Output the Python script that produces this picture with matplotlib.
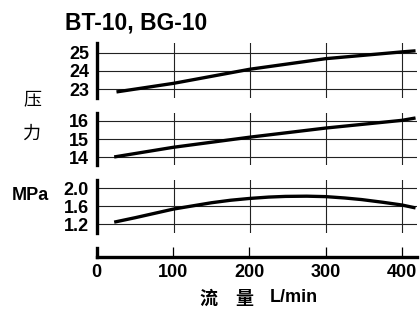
import numpy as np
from matplotlib import pyplot as plt

# flow, L/min
flow_a = [25, 100, 200, 300, 400, 418]
flow_b = [22, 100, 200, 300, 400, 418]
flow_c = [22, 50, 100, 150, 175, 200, 225, 247, 275, 300, 325, 347, 375, 400, 418]

# pressure, MPa
p_a = [22.85, 23.32, 24.09, 24.67, 25.04, 25.10]
p_b = [14.02, 14.55, 15.10, 15.60, 16.02, 16.15]
p_c = [1.25, 1.35, 1.54, 1.68, 1.735, 1.775, 1.805, 1.82, 1.825, 1.815, 1.785, 1.75, 1.69, 1.63, 1.565]

ticks_a = [23, 24, 25]
ticks_b = [14, 15, 16]
ticks_c = [1.2, 1.6, 2.0]
tick_labels_c = ["1.2", "1.6", "2.0"]
x_ticks = [0, 100, 200, 300, 400]

title = "BT-10, BG-10"
ylabel_parts = ["压", "力", "MPa"]
xlabel_parts = ["流", "量", "L/min"]

plt.rcParams['font.family'] = ['Liberation Sans', 'Noto Sans CJK SC', 'DejaVu Sans']
plt.rcParams['font.weight'] = 'bold'

fig = plt.figure(figsize=(4.2, 3.09), dpi=100)

left = 0.232
width = 0.761
panels = [
	(0.683, 0.178, flow_a, p_a, ticks_a, None, (22.52, 25.53)),
	(0.466, 0.167, flow_b, p_b, ticks_b, None, (13.58, 16.40)),
	(0.246, 0.171, flow_c, p_c, ticks_c, tick_labels_c, (1.01, 2.18)),
]

for bottom, h, xs, ys, yt, ytl, ylim in panels:
	ax = fig.add_axes([left, bottom, width, h])
	ax.set_xlim(0, 420)
	ax.set_ylim(*ylim)
	for s in ['top', 'right', 'bottom']:
		ax.spines[s].set_visible(False)
	ax.spines['left'].set_linewidth(2.4)
	ax.set_xticks(x_ticks[1:])
	ax.set_xticklabels([])
	ax.set_yticks(yt)
	if ytl is not None:
		ax.set_yticklabels(ytl)
	ax.tick_params(axis='both', length=0, pad=6)
	ax.tick_params(axis='y', labelsize=13)
	for lbl in ax.get_yticklabels():
		lbl.set_fontweight('bold')
	ax.grid(True, color='#222222', linewidth=0.8)
	ax.set_axisbelow(True)
	ax.plot(xs, ys, color='black', linewidth=2.4, solid_capstyle='butt', solid_joinstyle='round')

# bottom flow axis
axb = fig.add_axes([left - 0.002, 0.168, width + 0.002, 0.028])
axb.set_xlim(0, 420)
axb.set_ylim(0, 1)
for s in ['top', 'right']:
	axb.spines[s].set_visible(False)
axb.spines['bottom'].set_linewidth(2.4)
axb.spines['left'].set_linewidth(2.4)
axb.set_yticks([])
axb.set_xticks(x_ticks)
axb.tick_params(axis='x', direction='in', length=7, width=0.9, pad=5, labelsize=13)
for lbl in axb.get_xticklabels():
	lbl.set_fontweight('bold')

fig.text(65/420, 1 - 23/309, title, fontsize=16.5, fontweight='bold', ha='left', va='center')

# y label, split over the three panels
fig.text(32/420, 1 - 99/309, ylabel_parts[0], fontsize=13, fontweight='normal',
	ha='center', va='center', family=['Noto Sans CJK SC'])
fig.text(31/420, 1 - 134/309, ylabel_parts[1], fontsize=13, fontweight='normal',
	ha='center', va='center', family=['Noto Sans CJK SC'])
fig.text(30/420, 1 - 195/309, ylabel_parts[2], fontsize=13, fontweight='bold', ha='center', va='center')

# x label
fig.text(208/420, 1 - 298/309, xlabel_parts[0], fontsize=13, fontweight='bold',
	ha='center', va='center', family=['Noto Sans CJK SC'])
fig.text(244/420, 1 - 298/309, xlabel_parts[1], fontsize=13, fontweight='bold',
	ha='center', va='center', family=['Noto Sans CJK SC'])
fig.text(270/420, 1 - 298/309, xlabel_parts[2], fontsize=13, fontweight='bold', ha='left', va='center')

fig.savefig("out.png", dpi=100)
